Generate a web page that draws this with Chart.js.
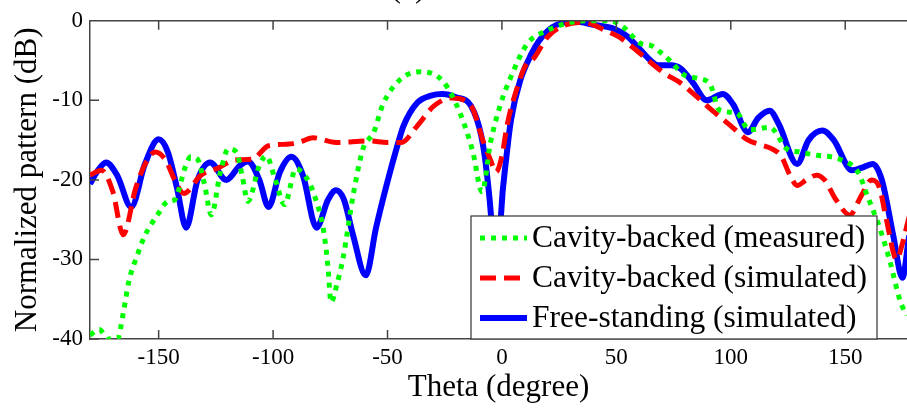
<!DOCTYPE html>
<html>
<head>
<meta charset="utf-8">
<script src="https://cdn.jsdelivr.net/npm/chart.js@4/dist/chart.umd.min.js"></script>
<style>
  html, body { margin: 0; padding: 0; background: #fff; }
  #wrap { width: 907px; height: 410px; }
</style>
</head>
<body>
<div id="wrap"><canvas id="patternChart" width="907" height="410"></canvas></div>
<script>
// tick labels
const xTicks = [-150, -100, -50, 0, 50, 100, 150];
const yTicks = [0, -10, -20, -30, -40];

// Cavity-backed (measured)
const measuredTheta = [-180, -176, -172, -168, -165.5, -163, -160, -156, -150.5, -146, -143, -141.5, -138.5, -136, -133, -130, -127,
  -123, -119.5, -116, -113.5, -111, -106, -103, -99, -95, -90, -86, -82.5, -77.7, -76, -74.7, -72, -69.4, -65, -60.7, -56,
  -52, -44.5, -35.8, -25.8, -18.3, -12.7, -8.7, -5, -0.4, 4, 11, 20, 30, 40, 47, 53, 61, 65, 69, 73.4, 79.5, 85, 91, 95,
  102.6, 108, 117, 124.5, 130, 137.5, 147.6, 156, 159, 165, 169.5, 174, 177, 180];
const measuredDb = [-39.5, -38.8, -40, -40, -36.8, -32.7, -30, -27, -24.4, -22.7, -22.5, -21.5, -18.5, -17.1, -17.4, -20.5, -24.4,
  -19, -16.1, -16.5, -19.5, -22.7, -18.2, -17, -20, -23.1, -18.6, -19.5, -21.5, -26.8, -31, -35.4, -33, -29.8, -21.9, -16.1, -14,
  -10.5, -7.4, -6.4, -7.6, -11.6, -16.5, -21.5, -15.3, -10.3, -7, -2.9, -1.2, -0.2, 0, 0, -0.8, -2.9, -3.1, -3.9, -5, -6.8, -7.2, -8, -11.2,
  -11.6, -13.7, -13.4, -16.1, -16.5, -16.9, -17.4, -19.2, -21.5, -26, -30.2, -35.2, -37, -38];

// Cavity-backed (simulated)
const simTheta = [-180, -175, -170, -165.5, -160, -155, -151.5, -147, -143, -139, -131.5, -124, -116.5, -109, -102, -93, -88, -82.5,
  -72.5, -58, -50, -44, -37, -29.7, -22, -13.5, -8, -5, -2.6, 0, 2.2, 6, 11, 13, 20, 27, 33.6, 40, 45, 51, 57, 64, 71, 78, 85, 92,
  100, 107, 113, 118, 122, 126, 129, 133, 137.5, 141, 146, 152, 157, 161.5, 165, 168, 172.5, 175, 178, 180];
const simDb = [-19.4, -18.8, -21.5, -26.9, -21, -17.5, -16.5, -17.5, -20, -21.7, -19.4, -18.5, -17.5, -17.4, -15.7, -15.5, -15.2, -14.7,
  -15.3, -15.1, -15.3, -15.3, -13.2, -10.7, -9.7, -10.7, -15.3, -17.5, -19, -17, -13.2, -9, -5.3, -5, -2, -0.6, -0.2, -0.5, -1.2, -2, -3.3, -5, -6.6, -7.8, -9.5, -11.3,
  -13.2, -14.9, -15.6, -16.1, -17, -19.5, -20.7, -20, -19.4, -20, -22.5, -24.4, -22, -20, -21, -25, -30, -28, -24.6, -23];

// Free-standing (simulated)
const freeTheta = [-180, -177, -173, -168, -162, -156, -150, -146, -142, -138, -133, -127.5, -120.5, -114.5, -111, -106, -102, -97, -92,
  -87, -81, -76, -72.5, -69, -65, -59.5, -55, -50, -46, -43, -37, -31, -26, -20, -13.5, -9, -6.5, -4, -2.5, -0.4, 2, 4, 8, 13, 16, 22,
  32, 40, 49, 55, 60, 65, 68.5, 74, 78, 83.5, 89.5, 96.5, 101, 107.5, 112, 117, 121, 129, 134, 140, 145, 153, 157, 162, 166, 171, 175, 178, 180];
const freeDb = [-20.5, -19, -17.8, -19.5, -23.4, -18, -14.9, -16.5, -21, -26, -20, -17.8, -20, -18.2, -17.7, -20, -23.4, -19, -17.1,
  -19.4, -26, -22.5, -21.3, -22.5, -27, -32, -26, -20.2, -16, -13.2, -10.3, -9.4, -9.2, -9.6, -10.7, -14.5, -19.4, -28, -40, -24.4, -17, -12.4, -7.5, -4.1, -2.6, -0.8,
  -0.1, -0.5, -1, -2, -3.5, -5, -5.6, -5.6, -6, -7.8, -10, -9.2, -10.5, -14, -12.2, -11.3, -13, -18, -15, -13.8, -15, -18.8, -18.5, -18, -20, -27, -32.3, -27, -25];

const pts = (xs, ys) => xs.map((x, i) => ({ x: x, y: ys[i] }));

const serif = 'Liberation Serif';

// inward ticks, top frame line, legend box and cropped panel title
const framePlugin = {
  id: 'frame',
  afterDatasetsDraw(chart) {
    const { ctx, chartArea: a, scales } = chart;
    ctx.save();
    ctx.strokeStyle = '#444';
    ctx.lineWidth = 1.5;
    ctx.setLineDash([]);
    ctx.beginPath();
    ctx.moveTo(a.left, a.top);
    ctx.lineTo(a.right, a.top);
    xTicks.forEach(v => {
      const px = scales.x.getPixelForValue(v);
      ctx.moveTo(px, a.bottom);
      ctx.lineTo(px, a.bottom - 9);
      ctx.moveTo(px, a.top);
      ctx.lineTo(px, a.top + 9);
    });
    yTicks.forEach(v => {
      const py = scales.y.getPixelForValue(v);
      ctx.moveTo(a.left, py);
      ctx.lineTo(a.left + 9, py);
    });
    ctx.stroke();

    // legend
    const lx = 471, ly = 216, lw = 406, lh = a.bottom - ly;
    ctx.fillStyle = '#fff';
    ctx.fillRect(lx, ly, lw, lh);
    ctx.strokeStyle = '#333';
    ctx.lineWidth = 1.2;
    ctx.strokeRect(lx, ly, lw, lh);
    ctx.font = '31.5px "' + serif + '"';
    ctx.textBaseline = 'middle';
    ctx.fillStyle = '#000';
    chart.data.datasets.forEach((ds, i) => {
      const cy = ly + 22 + i * 40;
      ctx.strokeStyle = ds.borderColor;
      ctx.lineWidth = ds.borderWidth;
      ctx.setLineDash(ds.borderDash || []);
      ctx.beginPath();
      ctx.moveTo(lx + 9, cy);
      ctx.lineTo(lx + 56, cy);
      ctx.stroke();
      ctx.setLineDash([]);
      ctx.fillText(ds.label, lx + 61, cy + 1);
    });

    // panel title, mostly cut off at the top
    ctx.textAlign = 'center';
    ctx.textBaseline = 'alphabetic';
    ctx.fillText('(a)', 408, -3);
    ctx.restore();
  }
};

new Chart(document.getElementById('patternChart'), {
  type: 'line',
  data: {
    datasets: [
      {
        label: 'Cavity-backed (measured)',
        data: pts(measuredTheta, measuredDb),
        borderColor: '#00ff00',
        borderWidth: 5,
        borderDash: [5, 6],
        borderCapStyle: 'butt'
      },
      {
        label: 'Cavity-backed (simulated)',
        data: pts(simTheta, simDb),
        borderColor: '#ff0000',
        borderWidth: 5,
        borderDash: [16, 8],
        borderCapStyle: 'butt'
      },
      {
        label: 'Free-standing (simulated)',
        data: pts(freeTheta, freeDb),
        borderColor: '#0000ff',
        borderWidth: 6
      }
    ]
  },
  options: {
    responsive: false,
    animation: false,
    cubicInterpolationMode: 'monotone',
    elements: { point: { radius: 0 } },
    layout: { padding: { top: 17, right: 0, left: 0, bottom: 0 } },
    plugins: {
      legend: { display: false },
      tooltip: { enabled: false }
    },
    scales: {
      x: {
        type: 'linear',
        min: -180,
        max: 177,
        afterBuildTicks: s => { s.ticks = xTicks.map(v => ({ value: v })); },
        afterFit: s => { s.height = 71; },
        grid: { display: false, drawTicks: false },
        border: { display: true, color: '#444', width: 1.5 },
        ticks: { color: '#000', padding: 5, font: { family: serif, size: 23 } },
        title: {
          display: true,
          text: 'Theta (degree)',
          color: '#000',
          padding: { top: 0, bottom: 4 },
          font: { family: serif, size: 31 }
        }
      },
      y: {
        min: -40,
        max: 0,
        afterBuildTicks: s => { s.ticks = yTicks.map(v => ({ value: v })); },
        afterFit: s => { s.width = 90; },
        grid: { display: false, drawTicks: false },
        border: { display: true, color: '#444', width: 1.5 },
        ticks: { color: '#000', padding: 7, font: { family: serif, size: 23 } },
        title: {
          display: true,
          text: 'Normalized pattern (dB)',
          color: '#000',
          padding: { top: 9, bottom: 0 },
          font: { family: serif, size: 31 }
        }
      }
    }
  },
  plugins: [framePlugin]
});
</script>
</body>
</html>
